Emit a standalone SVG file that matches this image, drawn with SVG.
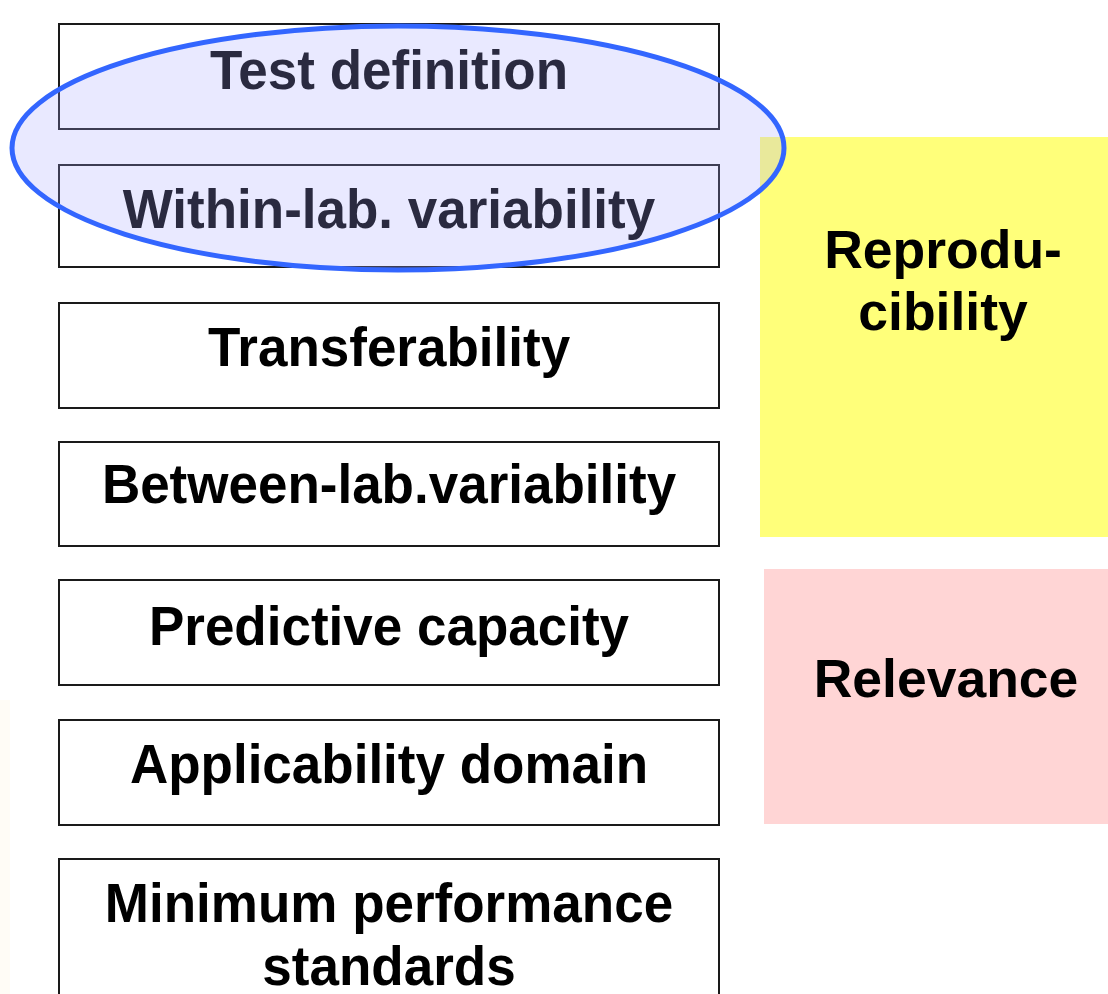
<svg xmlns="http://www.w3.org/2000/svg" width="1108" height="994" viewBox="0 0 1108 994">
  <style>
    .box { fill: #ffffff; stroke: #1a1a1a; stroke-width: 2; }
    .lbl { font-family: "Liberation Sans", Arial, sans-serif; font-weight: bold; font-size: 53px; fill: #000000; text-anchor: middle; }
    .side { font-family: "Liberation Sans", Arial, sans-serif; font-weight: bold; font-size: 53.5px; fill: #000000; text-anchor: middle; }
  </style>
  <rect x="0" y="0" width="1108" height="994" fill="#ffffff"/>
  <rect x="0" y="700" width="10" height="294" fill="#fffcf6"/>

  <!-- category panels -->
  <g id="reproducibility">
    <rect x="760" y="137" width="348" height="400" fill="#ffff7a"/>
    <text class="side" x="943" y="268">Reprodu-</text>
    <text class="side" x="943" y="330">cibility</text>
  </g>
  <g id="relevance">
    <rect x="764" y="569" width="344" height="255" fill="#ffd5d5"/>
    <text class="side" x="946" y="697">Relevance</text>
  </g>

  <!-- validation steps -->
  <g id="test-definition">
    <rect class="box" x="59" y="24" width="660" height="105"/>
    <text class="lbl" x="389" y="89" transform="translate(0 89) scale(1 1.05) translate(0 -89)">Test definition</text>
  </g>
  <g id="within-lab">
    <rect class="box" x="59" y="165" width="660" height="102"/>
    <text class="lbl" x="389" y="228" transform="translate(0 228) scale(1 1.05) translate(0 -228)">Within-lab. variability</text>
  </g>
  <g id="transferability">
    <rect class="box" x="59" y="303" width="660" height="105"/>
    <text class="lbl" x="389" y="366" transform="translate(0 366) scale(1 1.05) translate(0 -366)">Transferability</text>
  </g>
  <g id="between-lab">
    <rect class="box" x="59" y="442" width="660" height="104"/>
    <text class="lbl" x="389" y="503" transform="translate(0 503) scale(1 1.05) translate(0 -503)">Between-lab.variability</text>
  </g>
  <g id="predictive-capacity">
    <rect class="box" x="59" y="580" width="660" height="105"/>
    <text class="lbl" x="389" y="645" transform="translate(0 645) scale(1 1.05) translate(0 -645)">Predictive capacity</text>
  </g>
  <g id="applicability-domain">
    <rect class="box" x="59" y="720" width="660" height="105"/>
    <text class="lbl" x="389" y="783" transform="translate(0 783) scale(1 1.05) translate(0 -783)">Applicability domain</text>
  </g>
  <g id="minimum-performance">
    <rect class="box" x="59" y="859" width="660" height="160"/>
    <text class="lbl" x="389" y="922" transform="translate(0 922) scale(1 1.05) translate(0 -922)">Minimum performance</text>
    <text class="lbl" x="389" y="985" transform="translate(0 985) scale(1 1.05) translate(0 -985)">standards</text>
  </g>

  <!-- highlight around the first two steps -->
  <g id="highlight">
    <ellipse cx="398" cy="148" rx="386" ry="122" fill="#a8a8ff" fill-opacity="0.25" stroke="#3366ff" stroke-width="5"/>
  </g>

  <g id="connectors"/>
</svg>
